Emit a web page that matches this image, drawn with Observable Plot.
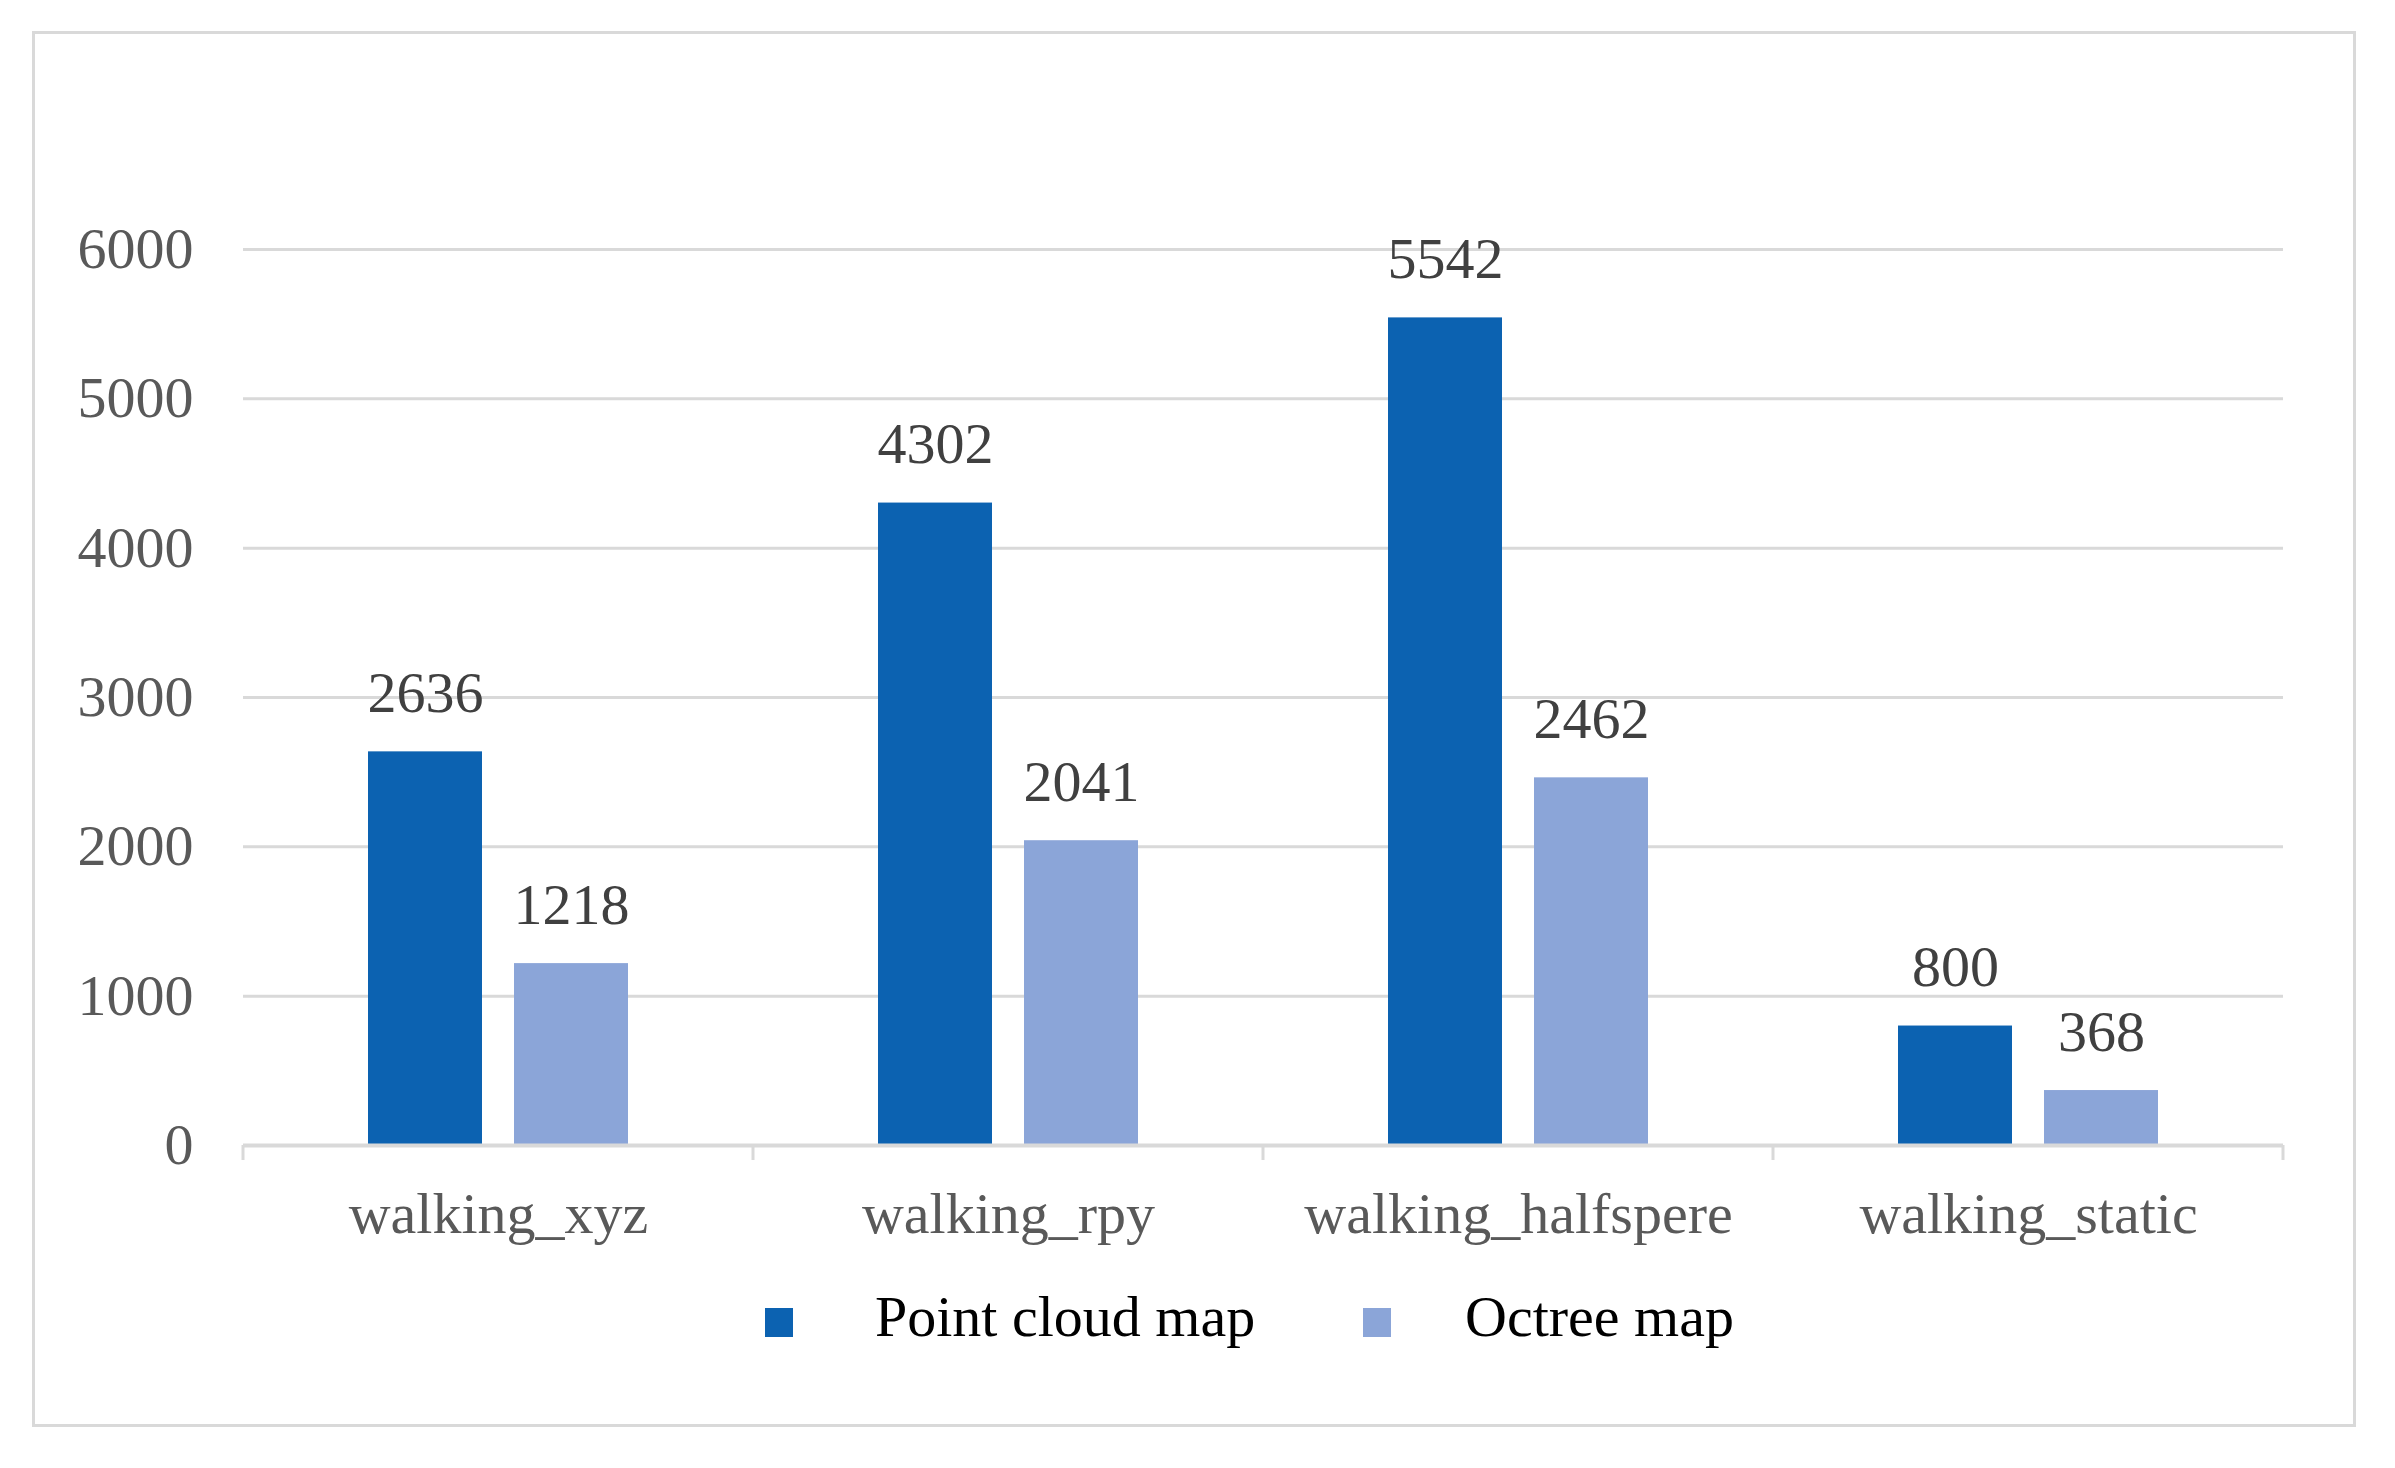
<!DOCTYPE html>
<html>
<head>
<meta charset="utf-8">
<script src="https://cdn.jsdelivr.net/npm/d3@7"></script>
<script src="https://cdn.jsdelivr.net/npm/@observablehq/plot@0.6"></script>
<style>
  html, body { margin: 0; padding: 0; background: #fff; }
  body { position: relative; width: 2395px; height: 1468px; overflow: hidden; font-family: "Liberation Serif", "Times New Roman", serif; }
  #border { position: absolute; left: 32px; top: 31px; width: 2324px; height: 1396px; border: 3px solid #d9d9d9; box-sizing: border-box; }
  #chart { position: absolute; left: 0; top: 0; }
  .leg-sq { position: absolute; width: 28px; height: 29px; }
  .leg-tx { position: absolute; font-size: 58px; line-height: 58px; color: #000; white-space: nowrap; }
</style>
</head>
<body>
<div id="border"></div>
<div id="chart"></div>
<div id="legend"></div>
<script>
const categories = ["walking_xyz", "walking_rpy", "walking_halfspere", "walking_static"];
const series = ["Point cloud map", "Octree map"];
const pointCloudValues = [2636, 4302, 5542, 800];
const octreeValues = [1218, 2041, 2462, 368];
const yTicks = [0, 1000, 2000, 3000, 4000, 5000, 6000];
const colors = ["#0c62b1", "#8ba5d8"];

const data = [];
categories.forEach((c, i) => {
  data.push({cat: c, series: series[0], value: pointCloudValues[i]});
  data.push({cat: c, series: series[1], value: octreeValues[i]});
});

const W = 2395, H = 1280;
const font = "'Liberation Serif', 'Times New Roman', serif";

const chart = Plot.plot({
  width: W,
  height: H,
  marginLeft: 242,
  marginRight: 112,
  marginTop: 249,
  marginBottom: H - 1145,
  style: {fontFamily: font, background: "transparent", overflow: "visible"},
  fx: {domain: categories, paddingInner: 0, paddingOuter: 0, axis: null},
  x: {domain: series, paddingInner: 0.218, paddingOuter: 0.844, axis: null},
  y: {domain: [0, 6000], ticks: yTicks, axis: null},
  color: {domain: series, range: colors},
  marks: [
    Plot.gridY(yTicks.filter(t => t > 0), {stroke: "#d9d9d9", strokeOpacity: 1, strokeWidth: 3}),
    Plot.barY(data, {fx: "cat", x: "series", y: "value", fill: "series"}),
    Plot.ruleY([0], {stroke: "#d9d9d9", strokeWidth: 4}),
    Plot.text(data, {fx: "cat", x: "series", y: "value", text: d => String(d.value), lineAnchor: "bottom", dy: -40, fontSize: 58, fill: "#404040"}),
    Plot.axisY(yTicks, {tickSize: 0, tickPadding: 50, fontSize: 58, fill: "#595959", label: null, tickFormat: d => String(d)}),
    Plot.axisFx({anchor: "bottom", tickSize: 0, tickPadding: 46, fontSize: 58, fill: "#595959", label: null})
  ]
});

// category boundary ticks below the axis, positioned from the fx/y scales
const fx = chart.scale("fx");
const ys = chart.scale("y");
const svgSel = d3.select(chart.tagName.toLowerCase() === "svg" ? chart : chart.querySelector("svg"));
const y0 = ys.apply(0);
const edges = categories.map(c => fx.apply(c));
edges.push(fx.apply(categories[categories.length - 1]) + fx.bandwidth);
svgSel.append("g")
  .selectAll("line")
  .data(edges)
  .join("line")
  .attr("x1", d => d).attr("x2", d => d)
  .attr("y1", y0).attr("y2", y0 + 15)
  .attr("stroke", "#d9d9d9").attr("stroke-width", 3);

document.getElementById("chart").appendChild(chart);

// legend
const legPos = [{sq: 765, tx: 875}, {sq: 1363, tx: 1465}];
const leg = d3.select("#legend");
series.forEach((s, i) => {
  leg.append("div").attr("class", "leg-sq")
    .style("left", legPos[i].sq + "px").style("top", "1308px")
    .style("background", colors[i]);
  leg.append("div").attr("class", "leg-tx")
    .style("left", legPos[i].tx + "px").style("top", "1288px")
    .text(s);
});
</script>
</body>
</html>
